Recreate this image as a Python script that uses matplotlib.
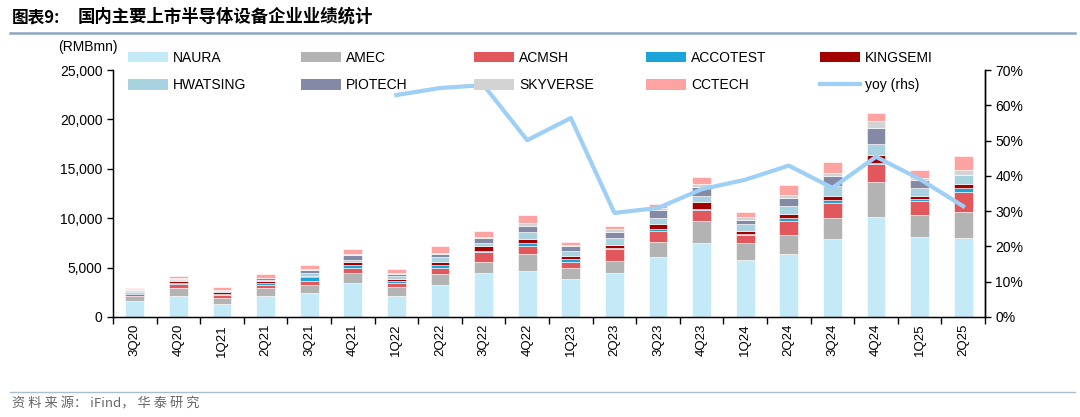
import numpy as np
import matplotlib
matplotlib.use("Agg")
import matplotlib.pyplot as plt
from matplotlib.patches import Patch
from matplotlib.lines import Line2D

plt.rcParams['font.family'] = ['Liberation Sans', 'Noto Sans CJK SC', 'DejaVu Sans']

quarters = ['3Q20', '4Q20', '1Q21', '2Q21', '3Q21', '4Q21', '1Q22', '2Q22', '3Q22', '4Q22',
            '1Q23', '2Q23', '3Q23', '4Q23', '1Q24', '2Q24', '3Q24', '4Q24', '1Q25', '2Q25']

naura = [1650, 2130, 1320, 2130, 2470, 3410, 2130, 3240, 4490, 4660,
         3850, 4490, 6050, 7470, 5780, 6390, 7940, 10170, 8140, 7970]
amec = [470, 780, 640, 780, 780, 1080, 950, 1110, 1110, 1720,
        1110, 1220, 1590, 2200, 1690, 1890, 2060, 3480, 2200, 2670]
acmsh = [200, 440, 300, 340, 440, 500, 340, 570, 950, 810,
         610, 1150, 1110, 1110, 810, 1420, 1520, 1790, 1450, 2060]
accotest = [130, 70, 70, 170, 340, 240, 270, 340, 170, 270,
            270, 170, 200, 200, 170, 300, 340, 170, 170, 340]
kingsemi = [130, 200, 150, 270, 170, 340, 170, 300, 470, 470,
            340, 300, 440, 610, 300, 470, 340, 740, 270, 440]
hwatsing = [100, 100, 100, 70, 240, 200, 240, 470, 270, 640,
            500, 640, 610, 610, 640, 780, 1080, 1110, 780, 910]
piotech = [70, 150, 70, 170, 340, 470, 240, 370, 500, 640,
           500, 610, 840, 950, 440, 810, 1010, 1720, 810, 0]
skyverse = [60, 60, 50, 60, 70, 140, 100, 100, 100, 270,
            100, 300, 170, 340, 270, 270, 270, 610, 270, 500]
cctech = [100, 250, 300, 400, 440, 470, 400, 680, 680, 840,
          340, 340, 440, 640, 540, 980, 1110, 810, 810, 1420]
yoy = [np.nan, np.nan, np.nan, np.nan, np.nan, np.nan, 62.9, 64.9, 65.7, 50.1,
       56.4, 29.5, 30.9, 36.2, 38.9, 42.9, 36.6, 45.4, 39.1, 31.4]

series_names = ['NAURA', 'AMEC', 'ACMSH', 'ACCOTEST', 'KINGSEMI',
                'HWATSING', 'PIOTECH', 'SKYVERSE', 'CCTECH']
series_vals = [naura, amec, acmsh, accotest, kingsemi, hwatsing, piotech, skyverse, cctech]
colors = ['#C4EAF8', '#B3B3B3', '#E2575C', '#1CA3D9', '#A20000',
          '#A8D2E0', '#8489A5', '#D3D3D3', '#FFA2A2']
yoy_color = '#9ECFF4'

fig = plt.figure(figsize=(10.8, 4.17), dpi=100)
ax = fig.add_axes([113/1080, 1-317/417, (985-113)/1080, (317-70)/417])

x = np.arange(len(quarters))
bottom = np.zeros(len(quarters))
for name, vals, c in zip(series_names, series_vals, colors):
    v = np.array(vals, dtype=float)
    ax.bar(x, v, width=0.43, bottom=bottom, color=c, edgecolor='white', linewidth=0.4, zorder=2)
    bottom += v

ax.set_xlim(-0.5, len(quarters)-0.5)
ax.set_ylim(0, 25000)
ax.set_yticks(np.arange(0, 25001, 5000))
ax.set_yticklabels([f'{v:,}' for v in range(0, 25001, 5000)], fontsize=10)
ax.set_xticks(x)
ax.set_xticklabels(quarters, rotation=90, fontsize=9.5)
ax.set_xticks(np.arange(-0.5, len(quarters), 1), minor=True)
ax.tick_params(axis='x', which='major', length=0, pad=5)
ax.tick_params(axis='x', which='minor', length=5, width=1, direction='out')
ax.tick_params(axis='y', length=4, width=1, direction='out')
ax.spines['top'].set_visible(False)
for s in ['left', 'bottom', 'right']:
    ax.spines[s].set_linewidth(1)

ax2 = ax.twinx()
ax2.plot(x, yoy, color=yoy_color, linewidth=3, zorder=3)
ax2.set_ylim(0, 70)
ax2.set_yticks(np.arange(0, 71, 10))
ax2.set_yticklabels([f'{v}%' for v in range(0, 71, 10)], fontsize=10)
ax2.tick_params(axis='y', length=4, width=1, direction='out')
ax2.spines['top'].set_visible(False)
ax2.spines['right'].set_linewidth(1)

# legend: 5 columns, 2 rows, placed manually
col_x = [128, 301, 474, 646, 820]
rows = [[0, 5], [1, 6], [2, 7], [3, 8], [4, None]]
for cx, (i, j) in zip(col_x, rows):
    handles = [Patch(facecolor=colors[i], edgecolor='none')]
    labels = [series_names[i]]
    if j is not None:
        handles.append(Patch(facecolor=colors[j], edgecolor='none'))
        labels.append(series_names[j])
    else:
        handles.append(Line2D([0], [0], color=yoy_color, linewidth=3))
        labels.append('yoy (rhs)')
    fig.legend(handles, labels, loc='upper left',
               bbox_to_anchor=(cx/1080, 1-51/417),
               frameon=False, fontsize=10, handlelength=2.9, handleheight=0.8,
               handletextpad=0.35, labelspacing=0.95, borderpad=0, borderaxespad=0)

fig.text(88/1080, 1-47/417, '(RMBmn)', fontsize=10, ha='center', va='center')

# title and lines
fig.text(12/1080, 1-17/417, '图表9:', fontsize=12, fontweight='bold',
         family=['Noto Sans CJK SC'], ha='left', va='center')
fig.text(78/1080, 1-17/417, '国内主要上市半导体设备企业业绩统计', fontsize=12.5, fontweight='bold',
         family=['Noto Sans CJK SC'], ha='left', va='center')
fig.add_artist(Line2D([10/1080, 1075/1080], [1-33/417, 1-33/417], color='#8CA7C2', linewidth=1.8))
fig.add_artist(Line2D([10/1080, 1075/1080], [1-392/417, 1-392/417], color='#A9BDD0', linewidth=1.0))
fig.text(12/1080, 1-404/417, '资 料 来 源： iFind， 华 泰 研 究', fontsize=9.5, color='#666666',
         family=['Noto Sans CJK SC', 'DejaVu Sans'], ha='left', va='center')

fig.savefig('out.png', dpi=100)
